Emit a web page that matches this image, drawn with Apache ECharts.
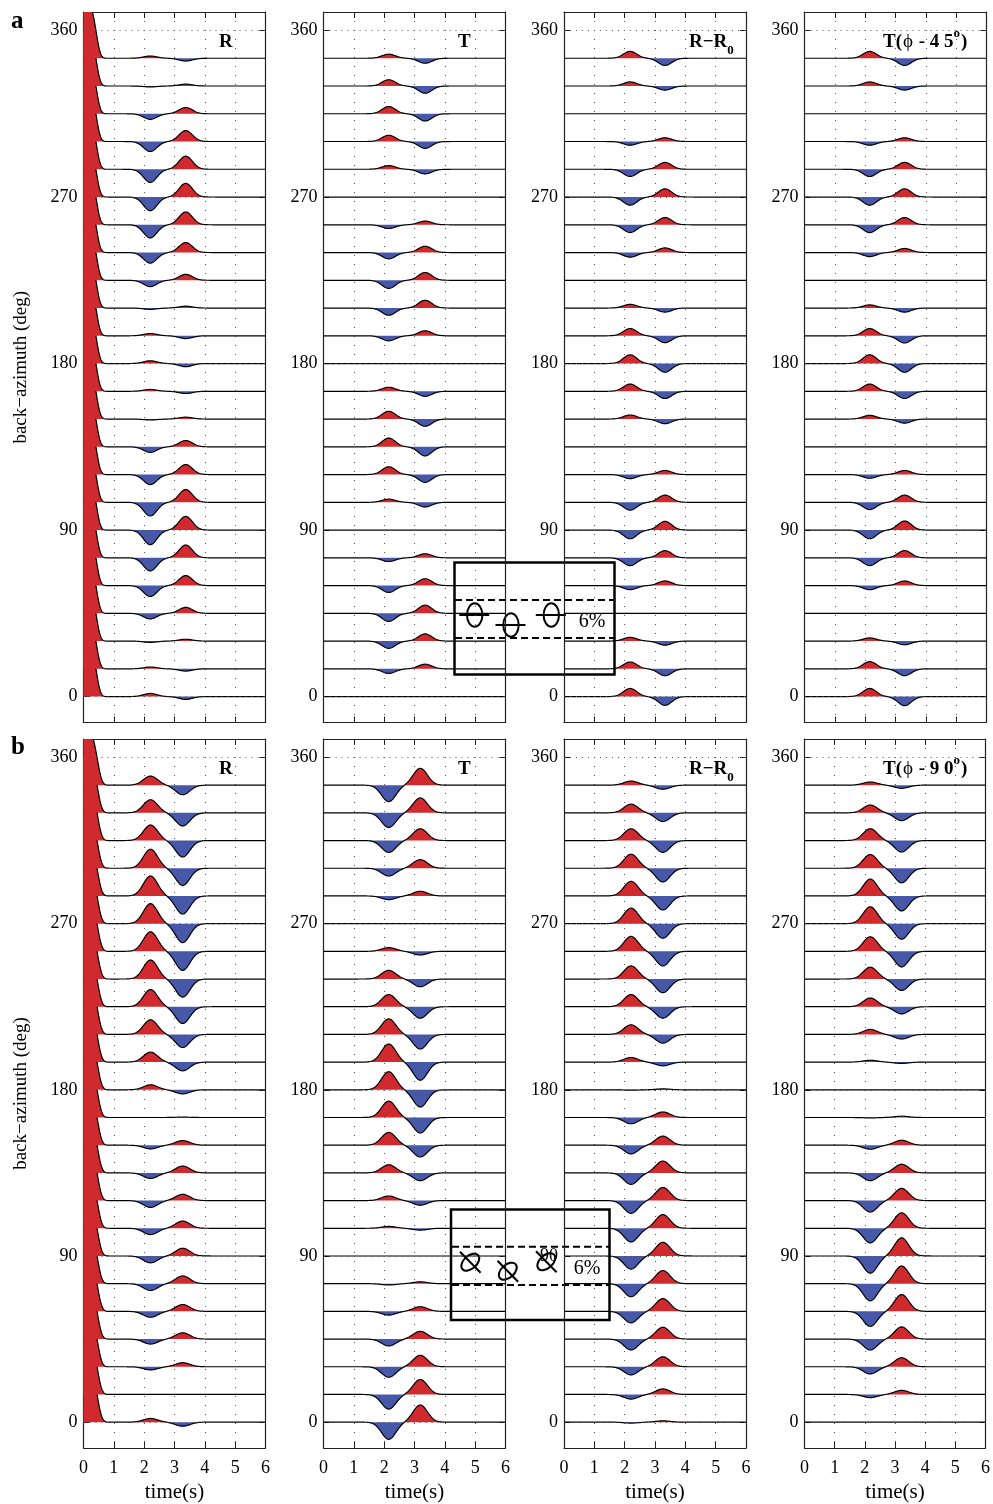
<!DOCTYPE html>
<html><head><meta charset="utf-8">
<script src="https://cdn.jsdelivr.net/npm/echarts@6/dist/echarts.min.js"></script>
<style>html,body{margin:0;padding:0;background:#fff}#c{width:993px;height:1504px}</style>
</head><body><div id="c"></div>
<script>
// ---------------- data ----------------
const backAzimuth = [0,15,30,45,60,75,90,105,120,135,150,165,180,195,210,225,240,255,270,285,300,315,330,345];
const yTickValues = [0,90,180,270,360];
const timeTicks = [0,1,2,3,4,5,6];

// amplitudes (in y-axis units) of the pulse near 2.2 s (p1) and near 3.3 s (p2), one per back-azimuth
// row a
const aR_p1   = [1.7,1.0,-0.7,-3.0,-5.9,-7.1,-7.9,-7.4,-5.4,-3.0,-0.5,1.0,1.5,1.2,-0.7,-3.4,-5.7,-7.1,-7.4,-7.1,-5.4,-3.0,-0.5,1.2];
const aR_p2   = [-1.5,-1.2,1.0,3.2,5.4,6.9,7.4,6.9,5.4,3.4,1.0,-1.2,-1.7,-1.5,1.0,3.2,5.4,6.9,7.4,7.1,5.9,3.4,1.0,-1.5];
const aT_p1   = [0,-2.5,-3.9,-4.4,-3.7,-2.0,0,1.7,4.2,4.7,4.2,2.2,0,-2.7,-3.9,-4.4,-3.4,-2.0,0,2.0,3.4,3.9,3.4,2.2];
const aT_p2   = [0,2.5,3.9,4.4,3.7,2.2,0,-2.5,-4.2,-4.9,-3.9,-2.7,0,2.7,4.2,4.2,3.4,2.0,0,-2.5,-3.7,-3.9,-3.9,-2.7];
const aRR0_p1 = [4.4,3.7,2.0,0,-2.2,-4.2,-4.7,-4.2,-2.2,0,2.2,3.9,4.7,3.9,2.0,0,-2.5,-4.2,-4.4,-3.9,-2.0,0,2.2,3.7];
const aRR0_p2 = [-4.7,-3.7,-2.2,0,2.5,3.9,4.7,3.9,2.2,0,-2.5,-3.9,-4.7,-3.7,-2.2,0,2.5,3.9,4.4,3.7,2.0,0,-2.2,-3.9];
const aT45_p1 = [4.4,3.9,1.7,0,-2.2,-4.2,-4.7,-3.9,-2.0,0,2.0,3.9,4.7,3.9,1.7,0,-2.2,-4.2,-4.4,-3.9,-2.0,0,2.2,3.7];
const aT45_p2 = [-4.9,-3.7,-2.0,0,2.5,3.9,4.9,3.9,2.2,0,-2.2,-3.9,-4.7,-3.9,-2.2,0,2.2,3.9,4.4,3.7,2.0,0,-2.2,-3.9];
// row b
const bR_p1   = [2.0,0,-1.7,-2.7,-3.2,-3.7,-3.7,-3.4,-3.7,-3.0,-2.0,0,2.7,5.4,7.9,9.3,10.3,10.6,10.8,10.8,10.3,8.4,7.1,4.9];
const bR_p2   = [-2.2,0,2.2,3.4,3.7,4.2,4.2,3.9,3.4,3.7,2.5,0.2,-2.2,-4.7,-7.1,-9.1,-9.8,-10.3,-10.3,-9.8,-9.3,-8.9,-7.1,-5.2];
const bT_p1   = [-9.3,-7.9,-5.7,-3.7,-2.0,-0.7,0,1.0,2.5,4.4,6.9,8.9,9.8,9.8,8.4,6.6,4.7,2.0,0,-2.0,-4.2,-6.4,-7.9,-8.9];
const bT_p2   = [9.3,8.1,6.2,4.2,2.5,1.0,0,-1.0,-2.5,-4.2,-6.4,-8.4,-9.3,-9.8,-7.9,-6.2,-4.2,-2.0,0,2.5,4.7,6.4,8.1,9.1];
const bRR0_p1 = [-0.5,-2.5,-4.4,-5.9,-6.2,-7.1,-7.1,-7.4,-6.9,-6.2,-4.7,-3.4,-0.2,2.5,5.2,6.6,7.1,8.1,8.4,7.9,7.6,6.4,4.7,2.2];
const bRR0_p2 = [0.7,3.0,5.4,6.4,6.9,7.1,7.4,7.4,7.1,6.4,4.9,3.0,0.5,-2.0,-4.7,-6.2,-7.4,-7.9,-7.9,-7.6,-7.4,-6.4,-4.7,-2.2];
const bT90_p1 = [0,-1.7,-3.9,-5.9,-8.1,-9.3,-9.3,-7.9,-6.2,-4.2,-2.2,-0.2,0,1.0,2.7,4.7,6.4,7.9,9.1,9.1,7.4,6.4,4.2,1.7];
const bT90_p2 = [0,2.2,4.9,6.6,9.1,9.6,9.8,8.4,6.6,4.7,2.7,0.7,0,-0.7,-2.5,-3.9,-6.2,-8.4,-8.4,-8.1,-7.9,-6.2,-4.2,-1.7];

// pulse arrival times (s) for each panel [p1, p2]
const pulseTimes = [[2.2,3.37],[2.15,3.35],[2.18,3.33],[2.15,3.3],[2.21,3.27],[2.15,3.19],[2.21,3.26],[2.18,3.22]];
// direct P pulse (radial panels only): amplitude and half-width
const directAmp = 30;
const directWidth = [0.45, 0.49];

const titleTexts = ['{m|R}','{m|T}','{m|R−R}{s|0}','{m|T(}{g|ϕ}{m| - 4 5}{o|o}{m|)}',
                    '{m|R}','{m|T}','{m|R−R}{s|0}','{m|T(}{g|ϕ}{m| - 9 0}{o|o}{m|)}'];
const panelLetters = ['a','b'];

// ---------------- layout / style ----------------
const FONT = "'Liberation Serif','Times New Roman',serif";
const RED = '#D12A2E', BLUE = '#4858A8';
const colLeft = [83.5, 323.5, 564, 804.5];
const colWidth = 182;
const rowTop = [12, 739];
const rowHeight = [710.5, 709.7];
const titlePos = [[214,37],[453,37],[684,37],[878,37],[214,764],[453,764],[684,764],[878,764]];
const letterPos = [[6,4],[6,730]];

const panelData = [
  [aR_p1,aR_p2,true],[aT_p1,aT_p2,false],[aRR0_p1,aRR0_p2,false],[aT45_p1,aT45_p2,false],
  [bR_p1,bR_p2,true],[bT_p1,bT_p2,false],[bRR0_p1,bRR0_p2,false],[bT90_p1,bT90_p2,false]
];

function makeRender(idx) {
  const row = idx < 4 ? 0 : 1;
  const t1 = pulseTimes[idx][0], t2 = pulseTimes[idx][1];
  const sig = row === 0 ? 0.22 : 0.235;
  const direct = panelData[idx][2];
  const dW = directWidth[row];
  const N = 300;
  return function (params, api) {
    const b = api.value(0), a1 = api.value(1), a2 = api.value(2);
    const pos = [api.coord([0, b])], neg = [api.coord([0, b])], line = [];
    for (let i = 0; i <= N; i++) {
      const t = i * 6 / N;
      let w = a1 * Math.exp(-((t - t1) ** 2) / (2 * sig * sig)) +
              a2 * Math.exp(-((t - t2) ** 2) / (2 * sig * sig));
      if (direct) w += directAmp * Math.exp(-Math.pow(t / dW, 4));
      pos.push(api.coord([t, b + Math.max(w, 0)]));
      neg.push(api.coord([t, b + Math.min(w, 0)]));
      line.push(api.coord([t, b + w]));
    }
    pos.push(api.coord([6, b]));
    neg.push(api.coord([6, b]));
    return {
      type: 'group',
      children: [
        { type: 'polygon', shape: { points: pos }, style: { fill: RED } },
        { type: 'polygon', shape: { points: neg }, style: { fill: BLUE } },
        { type: 'polyline', shape: { points: line }, style: { stroke: '#000', lineWidth: 1.2, fill: null } }
      ]
    };
  };
}

const grids = [], xAxes = [], yAxes = [], series = [], titles = [];
for (let i = 0; i < 8; i++) {
  const row = i < 4 ? 0 : 1, col = i % 4;
  grids.push({ left: colLeft[col], top: rowTop[row], width: colWidth, height: rowHeight[row], containLabel: false });
  const axisLineStyle = { color: '#222', width: 1.2 };
  xAxes.push({
    gridIndex: i, type: 'value', min: 0, max: 6, interval: 1, position: 'bottom',
    axisLine: { show: true, onZero: false, lineStyle: axisLineStyle },
    axisTick: { show: true, inside: true, length: 6, lineStyle: { color: '#222' } },
    axisLabel: { show: row === 1, fontFamily: FONT, fontSize: 18, color: '#000', margin: 11 },
    splitLine: { show: true, lineStyle: { type: [1, 8], color: '#555', width: 1 } },
    name: row === 1 ? 'time(s)' : '', nameLocation: 'middle', nameGap: 34,
    nameTextStyle: { fontFamily: FONT, fontSize: 21, color: '#000' }
  });
  xAxes.push({
    gridIndex: i, type: 'value', min: 0, max: 6, interval: 1, position: 'top',
    axisLine: { show: true, onZero: false, lineStyle: axisLineStyle },
    axisTick: { show: true, inside: true, length: 6, lineStyle: { color: '#222' } },
    axisLabel: { show: false }, splitLine: { show: false }
  });
  yAxes.push({
    gridIndex: i, type: 'value', min: -14, max: 370, position: 'left',
    axisLine: { show: true, onZero: false, lineStyle: axisLineStyle },
    axisTick: { show: true, inside: true, length: 6, customValues: yTickValues, lineStyle: { color: '#222' } },
    axisLabel: { show: true, customValues: yTickValues, fontFamily: FONT, fontSize: 18, color: '#000', margin: 6 },
    splitLine: { show: false },
    name: col === 0 ? 'back−azimuth (deg)' : '', nameLocation: 'middle', nameGap: 53, nameRotate: 90,
    nameTextStyle: { fontFamily: FONT, fontSize: 19, color: '#000' }
  });
  yAxes.push({
    gridIndex: i, type: 'value', min: -14, max: 370, position: 'right',
    axisLine: { show: true, onZero: false, lineStyle: axisLineStyle },
    axisTick: { show: true, inside: true, length: 6, customValues: yTickValues, lineStyle: { color: '#222' } },
    axisLabel: { show: false }, splitLine: { show: false }
  });
  // dotted horizontal grid at the y ticks
  series.push({
    type: 'line', xAxisIndex: 2 * i, yAxisIndex: 2 * i, data: [], silent: true, z: 1,
    markLine: {
      silent: true, symbol: 'none', label: { show: false }, animation: false,
      lineStyle: { type: [1, 5], color: '#555', width: 1 },
      data: yTickValues.map(v => ({ yAxis: v }))
    }
  });
  const [p1, p2] = panelData[i];
  series.push({
    type: 'custom', xAxisIndex: 2 * i, yAxisIndex: 2 * i, clip: true, z: 3, silent: true,
    renderItem: makeRender(i),
    data: backAzimuth.map((b, k) => [b, p1[k], p2[k]])
  });
  titles.push({
    text: titleTexts[i], left: titlePos[i][0], top: titlePos[i][1] - 15,
    textStyle: {
      rich: {
        m: { fontFamily: FONT, fontWeight: 'bold', fontSize: 19, color: '#000', lineHeight: 30, verticalAlign: 'middle' },
        g: { fontFamily: FONT, fontWeight: 'normal', fontSize: 19, color: '#000', lineHeight: 30, verticalAlign: 'middle', padding: [0, 1, 0, 1] },
        s: { fontFamily: FONT, fontWeight: 'bold', fontSize: 13, color: '#000', lineHeight: 30, verticalAlign: 'bottom' },
        o: { fontFamily: FONT, fontWeight: 'bold', fontSize: 13, color: '#000', lineHeight: 30, verticalAlign: 'top', padding: [0, 1, 0, 0] }
      }
    }
  });
}
panelLetters.forEach((l, r) => titles.push({
  text: l, left: letterPos[r][0], top: letterPos[r][1],
  textStyle: { fontFamily: FONT, fontWeight: 'bold', fontSize: 25, color: '#000' }
}));

// ---------------- insets ----------------
function insetA() {
  const els = [];
  els.push({ type: 'rect', shape: { x: 454.5, y: 562.5, width: 160, height: 112 }, style: { fill: '#fff', stroke: '#000', lineWidth: 2.5 } });
  [600, 638].forEach(y => els.push({ type: 'line', shape: { x1: 455, y1: y, x2: 614, y2: y }, style: { stroke: '#000', lineWidth: 2, lineDash: [7, 4] } }));
  [[474.7, 615], [511, 625], [551.3, 615]].forEach(([cx, cy]) => {
    els.push({ type: 'ellipse', shape: { cx: cx, cy: cy, rx: 7.7, ry: 11.7 }, style: { fill: null, stroke: '#000', lineWidth: 2 } });
    els.push({ type: 'line', shape: { x1: cx - 15.5, y1: cy, x2: cx + 14.5, y2: cy }, style: { stroke: '#000', lineWidth: 2 } });
  });
  els.push({ type: 'text', style: { x: 592, y: 622, text: '6%', font: '20px ' + FONT, fill: '#000', align: 'center', verticalAlign: 'middle' } });
  return els;
}
function insetB() {
  const els = [];
  els.push({ type: 'rect', shape: { x: 451, y: 1209.5, width: 158.5, height: 110.5 }, style: { fill: '#fff', stroke: '#000', lineWidth: 2.5 } });
  [1246.7, 1285].forEach(y => els.push({ type: 'line', shape: { x1: 452, y1: y, x2: 609, y2: y }, style: { stroke: '#000', lineWidth: 2, lineDash: [7, 4] } }));
  [[470.3, 1262.2], [507.8, 1271.2], [546.3, 1261.7]].forEach(([cx, cy]) => {
    els.push({ type: 'ellipse', x: cx, y: cy, rotation: 42 * Math.PI / 180, shape: { cx: 0, cy: 0, rx: 10.5, ry: 6.5 }, style: { fill: null, stroke: '#000', lineWidth: 2 } });
    els.push({ type: 'line', shape: { x1: cx - 10.3, y1: cy - 10.5, x2: cx + 10.3, y2: cy + 10.5 }, style: { stroke: '#000', lineWidth: 2 } });
  });
  els.push({ type: 'text', style: { x: 587, y: 1269, text: '6%', font: '20px ' + FONT, fill: '#000', align: 'center', verticalAlign: 'middle' } });
  return els;
}

const chart = echarts.init(document.getElementById('c'), null, { renderer: 'canvas' });
chart.setOption({
  animation: false,
  backgroundColor: '#fff',
  title: titles,
  grid: grids, xAxis: xAxes, yAxis: yAxes, series: series,
  graphic: [{ type: 'group', z: 100, children: insetA().concat(insetB()) }]
});
</script></body></html>
